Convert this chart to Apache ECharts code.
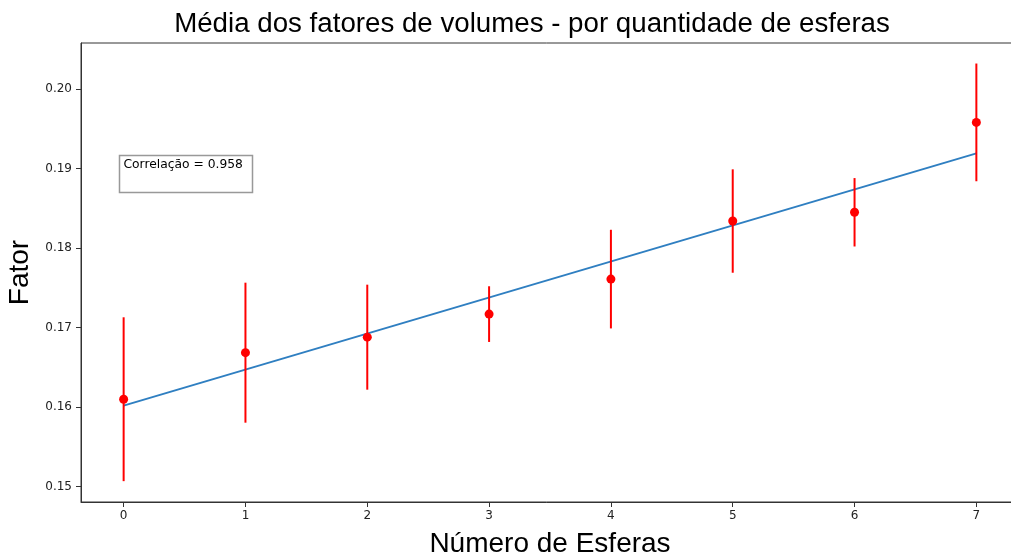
<!DOCTYPE html>
<html>
<head>
<meta charset="utf-8">
<script src="https://cdn.jsdelivr.net/npm/echarts@6/dist/echarts.min.js"></script>
<style>
  html, body { margin: 0; padding: 0; background: #fff; }
  #chart { width: 1011px; height: 558px; }
</style>
</head>
<body>
<div id="chart"></div>
<script>
// Number of spheres and the mean volume factor for each, with its spread
const spheres = [0, 1, 2, 3, 4, 5, 6, 7];
const meanFactor = [0.1610, 0.16685, 0.1688, 0.1717, 0.1761, 0.1834, 0.1845, 0.1958];
const stdFactor = [0.0103, 0.0088, 0.0066, 0.0035, 0.0062, 0.0065, 0.0043, 0.0074];
// Linear fit through the means, at its two ends
const fitX = [0, 7];
const fitY = [0.1602, 0.1919];
const correlation = 0.958;
const xTicks = [0, 1, 2, 3, 4, 5, 6, 7];
const yTicks = [0.15, 0.16, 0.17, 0.18, 0.19, 0.20];

const chart = echarts.init(document.getElementById('chart'), null, { renderer: 'canvas' });

const tickFont = { fontFamily: 'DejaVu Sans', fontSize: 12, color: '#222' };
const axisLineStyle = { color: '#333', width: 1 };

const errorData = spheres.map((x, i) => [x, meanFactor[i] - stdFactor[i], meanFactor[i] + stdFactor[i]]);

chart.setOption({
  animation: false,
  backgroundColor: '#fff',
  title: {
    text: 'Média dos fatores de volumes - por quantidade de esferas',
    left: 527, top: 5, textAlign: 'center',
    textStyle: { fontFamily: 'Liberation Sans', fontSize: 27.7, fontWeight: 'normal', color: '#000' }
  },
  grid: {
    left: 81, top: 43, bottom: 56, right: -8,
    outerBoundsMode: 'none',
    containLabel: false,
    show: true, borderColor: '#333', borderWidth: 1, backgroundColor: 'transparent'
  },
  xAxis: {
    type: 'value', min: -0.35, max: 7.35,
    name: 'Número de Esferas', nameLocation: 'middle', nameGap: 28,
    nameTextStyle: { fontFamily: 'Liberation Sans', fontSize: 28, color: '#000' },
    axisLine: { show: true, onZero: false, lineStyle: axisLineStyle },
    axisTick: { show: true, length: 5, lineStyle: axisLineStyle, customValues: xTicks },
    axisLabel: Object.assign({ margin: 8, customValues: xTicks, formatter: v => String(v) }, tickFont),
    splitLine: { show: false }
  },
  yAxis: {
    type: 'value', min: 0.14808, max: 0.20578,
    name: 'Fator', nameLocation: 'middle', nameGap: 46, nameRotate: 90,
    nameTextStyle: { fontFamily: 'Liberation Sans', fontSize: 28, color: '#000' },
    axisLine: { show: true, onZero: false, lineStyle: axisLineStyle },
    axisTick: { show: true, length: 5, lineStyle: axisLineStyle, customValues: yTicks },
    axisLabel: Object.assign({ margin: 9, customValues: yTicks, formatter: v => v.toFixed(2) }, tickFont),
    splitLine: { show: false }
  },
  series: [
    {
      name: 'ajuste',
      type: 'line',
      data: fitX.map((x, i) => [x, fitY[i]]),
      showSymbol: false,
      lineStyle: { color: '#2f7fc1', width: 2 },
      z: 2
    },
    {
      name: 'erro',
      type: 'custom',
      data: errorData,
      renderItem: function (params, api) {
        const lo = api.coord([api.value(0), api.value(1)]);
        const hi = api.coord([api.value(0), api.value(2)]);
        return {
          type: 'line',
          shape: { x1: lo[0], y1: lo[1], x2: hi[0], y2: hi[1] },
          style: { stroke: '#ff0000', lineWidth: 2 }
        };
      },
      z: 3
    },
    {
      name: 'média',
      type: 'scatter',
      data: spheres.map((x, i) => [x, meanFactor[i]]),
      symbol: 'circle',
      symbolSize: 9,
      itemStyle: { color: '#ff0000', opacity: 1 },
      z: 4
    }
  ],
  graphic: [
    {
      type: 'rect',
      shape: { x: 119.5, y: 155.5, width: 133, height: 37 },
      style: { fill: '#fff', stroke: '#999', lineWidth: 1.5 },
      z: 10
    },
    {
      type: 'text',
      x: 123.5, y: 158.5,
      style: {
        text: 'Correlação = ' + correlation.toFixed(3),
        fontFamily: 'DejaVu Sans', fontSize: 12.3, fill: '#000'
      },
      z: 11
    }
  ]
});
</script>
</body>
</html>
